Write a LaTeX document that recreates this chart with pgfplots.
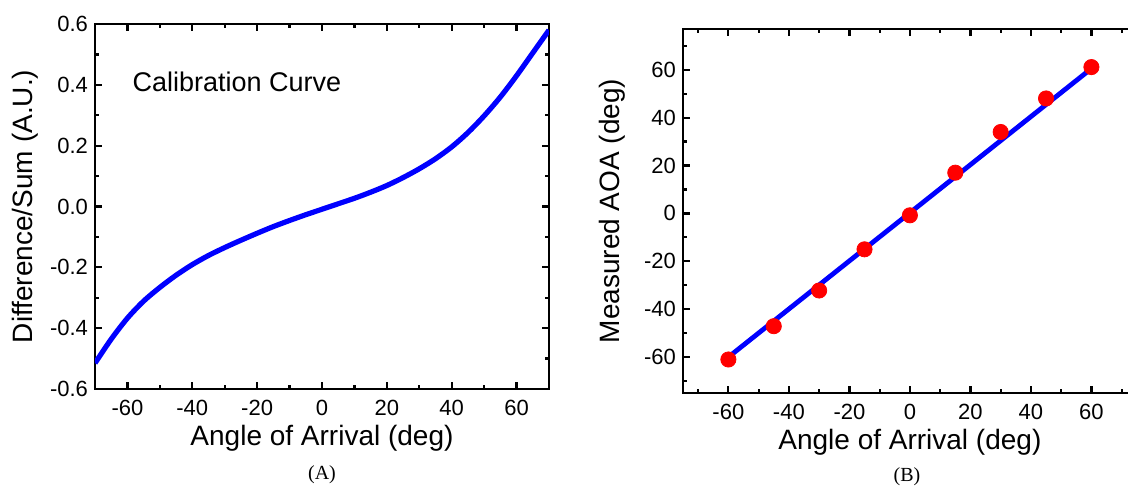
\documentclass[border=0pt]{standalone}
\usepackage{fontspec}
\setmainfont{Liberation Sans}
\newfontfamily\capfont{Liberation Serif}
\usepackage{pgfplots}
\pgfplotsset{compat=1.18}
\begin{document}
\begin{tikzpicture}
\useasboundingbox (0,0) rectangle (564pt,244.5pt);
\pgfplotsset{
  every axis/.append style={
    scale only axis,
    axis line style={line width=1.2pt},
    every tick/.style={line width=1.1pt, black},
    tick align=inside,
    major tick length=3.5pt,
    minor tick length=2pt,
    tick label style={font=\fontsize{11}{13}\selectfont},
    label style={font=\fontsize{14}{16}\selectfont},
    /pgf/number format/assume math mode=true,
    xticklabel style={yshift=-2pt},
    xlabel style={at={(axis description cs:0.5,-0.098)},anchor=north,inner sep=0pt},
  },
}
% ---------- (A) ----------
\begin{axis}[
  at={(47.5pt,50pt)}, anchor=south west,
  width=227pt, height=182.5pt,
  xmin=-70, xmax=70, ymin=-0.6, ymax=0.6,
  xtick={-60,-40,...,60}, minor xtick={-50,-30,...,50},
  ytick={-0.6,-0.4,...,0.61}, minor ytick={-0.5,-0.3,...,0.51},
  yticklabel style={/pgf/number format/.cd,fixed,fixed zerofill,precision=1},
  ylabel style={at={(axis description cs:-0.183,0.5)},anchor=north,inner sep=0pt},
  xlabel={Angle of Arrival (deg)},
  ylabel={Difference/Sum (A.U.)},
]
\addplot[blue, line width=2.6pt, smooth, tension=0.5] coordinates {
  (-70,-0.515) (-65,-0.436) (-60,-0.367) (-55,-0.311) (-50,-0.266) (-45,-0.226)
  (-40,-0.191) (-35,-0.161) (-30,-0.135) (-25,-0.111) (-20,-0.088) (-15,-0.066)
  (-10,-0.046) (-5,-0.027) (0,-0.009) (5,0.009) (10,0.027) (15,0.047) (20,0.069)
  (25,0.095) (30,0.124) (35,0.157) (40,0.196) (45,0.243) (50,0.298) (55,0.360)
  (60,0.430) (65,0.505) (70,0.580)
};
\node[anchor=west, font=\fontsize{13.5}{15}\selectfont, inner sep=0pt] at (axis cs:-58.5,0.41) {Calibration Curve};
\end{axis}
% ---------- (B) ----------
\begin{axis}[
  at={(341.5pt,48pt)}, anchor=south west,
  width=226.9pt, height=182pt,
  xmin=-75, xmax=75, ymin=-75, ymax=77,
  xtick={-60,-40,...,60}, minor xtick={-70,-50,...,70},
  ytick={-60,-40,...,60}, minor ytick={-70,-50,...,70},
  ylabel style={at={(axis description cs:-0.186,0.5)},anchor=north,inner sep=0pt},
  xlabel={Angle of Arrival (deg)},
  ylabel={Measured AOA (deg)},
]
\addplot[blue, line width=2.4pt] coordinates {(-60,-60) (60,60.5)};
\addplot[only marks, mark=*, mark size=3.8pt, color=red, mark options={draw=red, fill=red}] coordinates {
  (-60,-61) (-45,-47.1) (-30,-32.2) (-15,-15) (0,-0.8) (15,17) (30,34) (45,48) (60,61.1)
};
\end{axis}
\node[font=\capfont\fontsize{10}{12}\selectfont] at (161pt,7pt) {(A)};
\node[font=\capfont\fontsize{10}{12}\selectfont] at (453.5pt,6pt) {(B)};
\end{tikzpicture}
\end{document}
